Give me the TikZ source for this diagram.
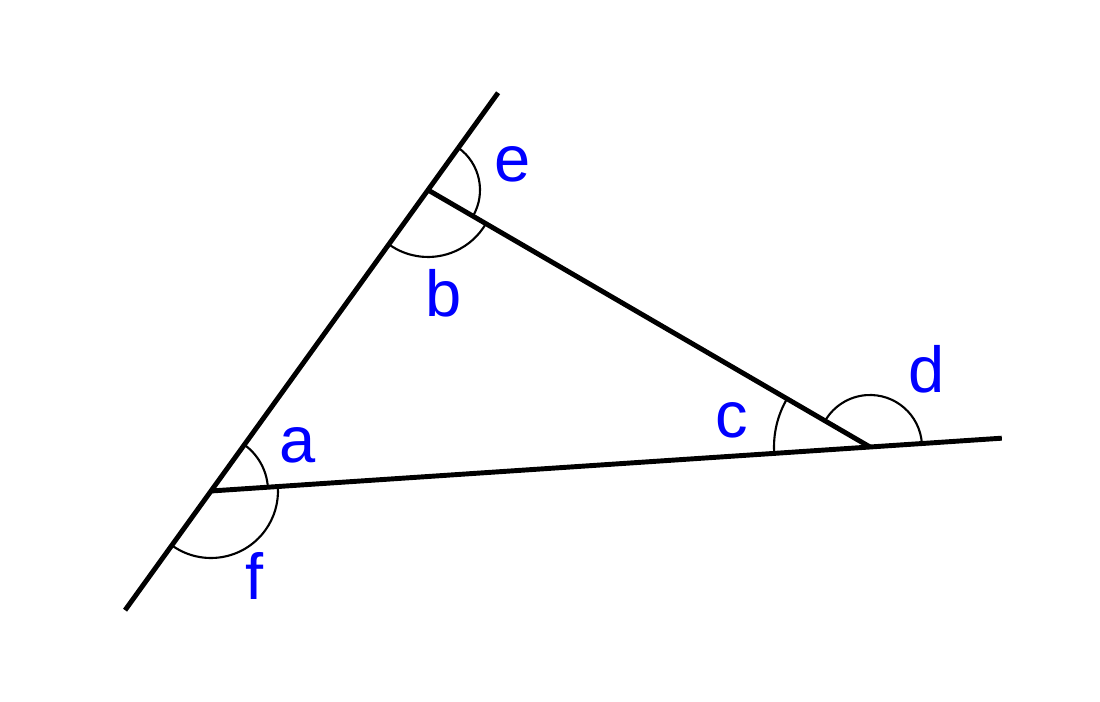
\documentclass[tikz,border=0pt]{standalone}
\usepackage{fontspec}
\setmainfont{Liberation Sans}
\usetikzlibrary{angles,calc}
\begin{document}
\begin{tikzpicture}[
	side/.style={line width=2.8pt},
	arcmark/.style={draw, line width=1.2pt},
	lbl/.style={text=blue, inner sep=0pt, anchor=base, font=\fontsize{37}{44}\selectfont}]
			\useasboundingbox (0,0) rectangle (22,14.04);
			\coordinate (A) at (4.22,4.22);
			\coordinate (B) at (8.56,10.24);
			\coordinate (C) at (17.40,5.10);
			\coordinate (P1) at ($(A)!-0.396!(B)$);
			\coordinate (P2) at ($(B)!-0.323!(A)$);
			\coordinate (P3) at ($(C)!-0.2!(A)$);
			\draw[side] (P1) -- (P2);
			\draw[side] (A) -- (P3);
			\draw[side] (B) -- (C);
			\pic[arcmark, angle radius=1.14cm] {angle=C--A--B};
			\pic[arcmark, angle radius=1.34cm] {angle=P1--A--C};
			\pic[arcmark, angle radius=1.34cm] {angle=A--B--C};
			\pic[arcmark, angle radius=1.04cm] {angle=C--B--P2};
			\pic[arcmark, angle radius=1.92cm] {angle=B--C--A};
			\pic[arcmark, angle radius=1.04cm] {angle=P3--C--B};
			\node[lbl] (la) at (5.95,4.78) {a};
			\node[lbl] (lb) at (8.88,7.70) {b};
			\node[lbl] (lc) at (14.64,5.28) {c};
			\node[lbl] (ld) at (18.54,6.18) {d};
			\node[lbl] (le) at (10.26,10.40) {e};
			\node[lbl] (lf) at (5.10,2.04) {f};
		\end{tikzpicture}
\end{document}
